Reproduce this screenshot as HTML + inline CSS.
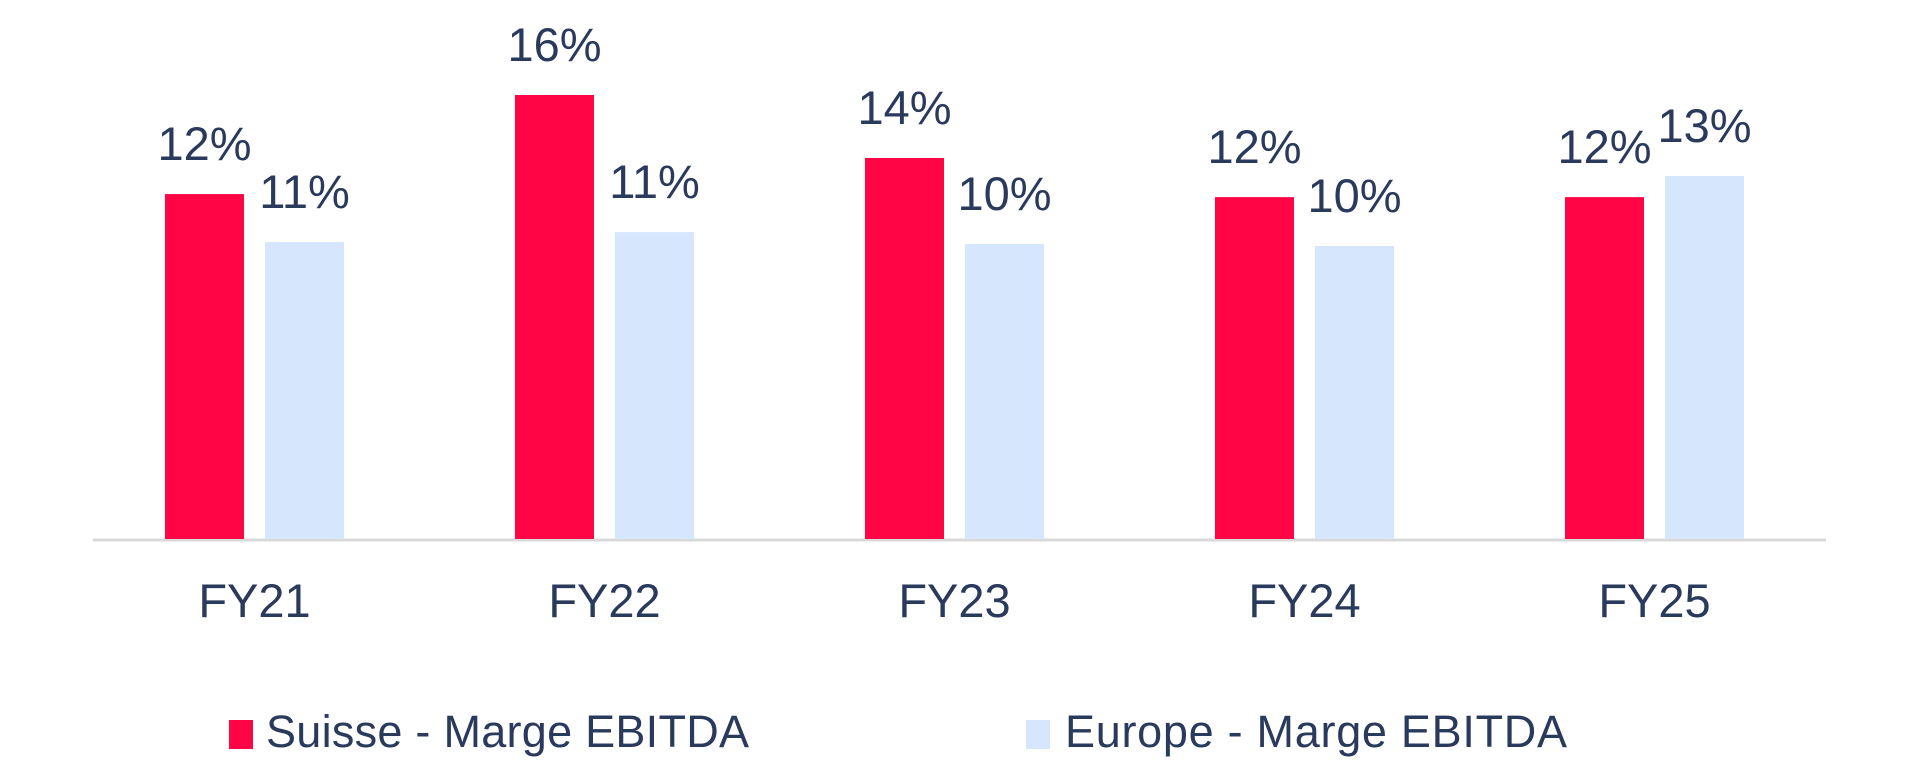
<!DOCTYPE html>
<html><head><meta charset="utf-8"><style>
html,body{margin:0;padding:0;background:#fff;}
svg{display:block;}
text{font-family:"Liberation Sans",sans-serif;fill:#2a3a5c;}
</style></head><body>
<svg id="chart" width="1920" height="780">
<line x1="93" y1="540" x2="1826" y2="540" stroke="#d9d9d9" stroke-width="3"/>
<g id="bars"></g>
<rect x="229" y="720" width="24" height="29" fill="#ff0545"/>
<text x="266" y="747" font-size="45" textLength="483">Suisse - Marge EBITDA</text>
<rect x="1026" y="720" width="24" height="29" fill="#d6e6fc"/>
<text x="1065" y="747" font-size="45" textLength="502">Europe - Marge EBITDA</text>
</svg>
<script>
const categories = ["FY21","FY22","FY23","FY24","FY25"];
const suisse = [12.43,16.0,13.73,12.32,12.32];
const europe = [10.7,11.06,10.63,10.56,13.08];
const suisseLabels = ["12%","16%","14%","12%","12%"];
const europeLabels = ["11%","11%","10%","10%","13%"];

const baseY = 539, pxPerPct = 27.75;
const groupStart = 165, groupStep = 350, barW = 79, innerGap = 21;
const yScale = v => baseY - v * pxPerPct;
const xBar = (i, s) => groupStart + i * groupStep + s * (barW + innerGap);
const ns = "http://www.w3.org/2000/svg";
const g = document.getElementById("bars");
function mk(tag, attrs){const e=document.createElementNS(ns,tag);for(const k in attrs)e.setAttribute(k,attrs[k]);return e;}
const series = [[suisse,suisseLabels,"#ff0545","suisse"],[europe,europeLabels,"#d6e6fc","europe"]];
categories.forEach((c,i)=>{
  series.forEach(([vals,labs,col,nm],s)=>{
    const x = xBar(i,s), y = yScale(vals[i]);
    const r = mk("rect",{x:x,y:y,width:barW,height:baseY-y,fill:col});
    
    
    g.appendChild(r);
    const t = mk("text",{x:x+barW/2,y:y-34,"text-anchor":"middle","font-size":"47"});
    t.textContent = labs[i];
    
    
    g.appendChild(t);
  });
  const t = mk("text",{x:xBar(i,0)+barW+innerGap/2,y:617,"text-anchor":"middle","font-size":"47"});
  t.textContent = c;
  
  
  g.appendChild(t);
});
</script>
</body></html>
